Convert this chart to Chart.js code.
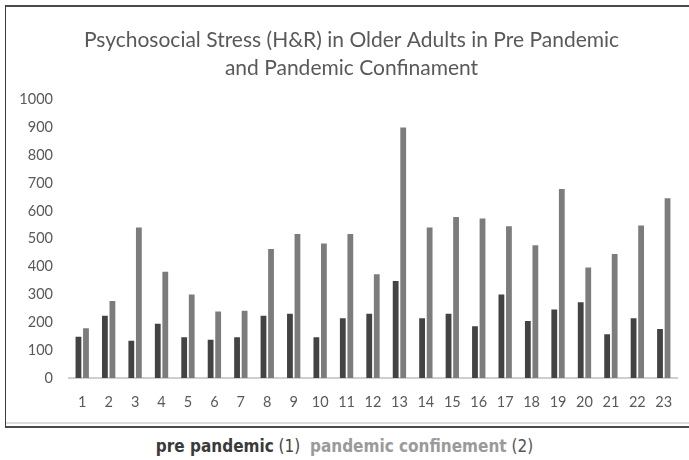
<!DOCTYPE html>
<html>
<head>
<meta charset="utf-8">
<script src="https://cdn.jsdelivr.net/npm/chart.js@4/dist/chart.umd.min.js"></script>
<style>
  html, body { margin: 0; padding: 0; background: #fff; width: 689px; height: 460px; overflow: hidden; position: relative; }
  #frame {
    position: absolute; left: 5px; top: 5px; width: 740px; height: 419px;
    border-left: 1px solid #3c3c3c; border-top: 2px solid #4a4a4a; border-bottom: 2px solid #4a4a4a;
  }
  #frame .inner {
    position: absolute; left: 0; right: 0; bottom: 2px; height: 2px; background: #dcdcdc;
  }
  #wrap { position: absolute; left: 0; top: 0; width: 689px; height: 420px; }
  #caption {
    position: absolute; left: 0; top: 436px; width: 689px; text-align: center;
    font-family: 'Liberation Sans Narrow', 'DejaVu Sans Condensed', 'Roboto', sans-serif;
    font-size: 17px; line-height: 20px; white-space: pre;
  }
  #caption b { font-weight: 800; }
</style>
</head>
<body>
<div id="frame"><div class="inner"></div></div>
<div id="wrap"><canvas id="chart"></canvas></div>
<div id="caption"><b style="color:#3a3a3a">pre pandemic</b><span style="color:#444"> (1)  </span><b style="color:#9a9a9a">pandemic confinement</b><span style="color:#555"> (2)</span></div>
<script>
const categories = ['1','2','3','4','5','6','7','8','9','10','11','12','13','14','15','16','17','18','19','20','21','22','23'];
const prePandemic = [148, 224, 134, 195, 146, 137, 146, 224, 231, 146, 215, 231, 348, 215, 231, 186, 300, 205, 246, 272, 157, 215, 176];
const pandemicConfinement = [179, 277, 541, 382, 300, 239, 242, 463, 517, 483, 517, 373, 900, 541, 578, 573, 545, 477, 679, 397, 445, 548, 646];
const titleLines = ['Psychosocial Stress (H&R) in Older Adults in Pre Pandemic', 'and Pandemic Confinament'];

const tickFont = { family: 'Lato, "Open Sans", sans-serif', size: 14.5 };

// Centre the title over the framed panel rather than the full canvas.
const titleShift = {
  id: 'titleShift',
  afterLayout(chart) {
    if (chart.titleBlock) chart.titleBlock.left = 26;
  }
};

new Chart(document.getElementById('chart'), {
  type: 'bar',
  data: {
    labels: categories,
    datasets: [
      { label: 'pre pandemic', data: prePandemic, backgroundColor: '#434343',
        categoryPercentage: 0.57, barPercentage: 0.77 },
      { label: 'pandemic confinement', data: pandemicConfinement, backgroundColor: '#7c7c7c',
        categoryPercentage: 0.57, barPercentage: 0.77 }
    ]
  },
  plugins: [titleShift],
  options: {
    responsive: true,
    maintainAspectRatio: false,
    animation: false,
    layout: { padding: { left: 0, right: 12, top: 0, bottom: 0 } },
    plugins: {
      legend: { display: false },
      tooltip: { enabled: false },
      title: {
        display: true,
        text: titleLines,
        color: '#595959',
        font: { family: 'Lato, "Open Sans", sans-serif', size: 21, weight: 'normal', lineHeight: 1.3 },
        padding: { top: 27, bottom: 18 }
      }
    },
    scales: {
      x: {
        grid: { display: false, drawTicks: false },
        border: { display: true, color: '#cfcfcf', width: 2 },
        ticks: { color: '#595959', font: tickFont, padding: 16, maxRotation: 0, autoSkip: false },
        afterFit: (s) => { s.height = 42; }
      },
      y: {
        min: 0, max: 1000,
        grid: { display: false, drawTicks: false },
        border: { display: false },
        ticks: { stepSize: 100, color: '#595959', font: tickFont, padding: 16,
                 callback: (v) => String(v) },
        afterFit: (s) => { s.width = 69; }
      }
    }
  }
});
</script>
</body>
</html>
